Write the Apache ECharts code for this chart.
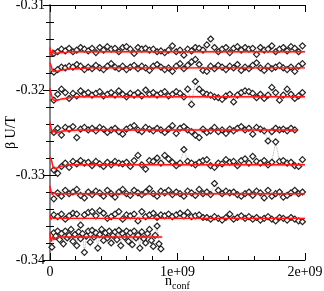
<!DOCTYPE html>
<html><head><meta charset="utf-8">
<script src="https://cdn.jsdelivr.net/npm/echarts@6/dist/echarts.min.js"></script>
<style>html,body{margin:0;padding:0;background:#fff}#c{width:324px;height:291px}</style>
</head><body><div id="c"></div>
<script>
// x positions (n_conf) for series 1-7
const xs = [3e7,6e7,9e7,1.2e8,1.5e8,1.8e8,2.1e8,2.4e8,2.7e8,3e8,
3.3e8,3.6e8,3.9e8,4.2e8,4.5e8,4.8e8,5.1e8,5.4e8,5.7e8,6e8,
6.3e8,6.6e8,6.9e8,7.2e8,7.5e8,7.8e8,8.1e8,8.4e8,8.7e8,9e8,
9.3e8,9.6e8,9.9e8,1.02e9,1.05e9,1.08e9,1.11e9,1.14e9,1.17e9,1.2e9,
1.23e9,1.26e9,1.29e9,1.32e9,1.35e9,1.38e9,1.41e9,1.44e9,1.47e9,1.5e9,
1.53e9,1.56e9,1.59e9,1.62e9,1.65e9,1.68e9,1.71e9,1.74e9,1.77e9,1.8e9,
1.83e9,1.86e9,1.89e9,1.92e9,1.95e9,1.98e9];
// x positions for series 8 (denser, shorter)
const xs8 = [1.5e7,3e7,4.5e7,6e7,7.5e7,9e7,1.05e8,1.2e8,1.35e8,1.5e8,1.65e8,1.8e8,1.95e8,2.1e8,2.25e8,2.4e8,2.55e8,2.7e8,2.85e8,3e8,
3.15e8,3.3e8,3.45e8,3.6e8,3.75e8,3.9e8,4.05e8,4.2e8,4.35e8,4.5e8,4.65e8,4.8e8,4.95e8,5.1e8,5.25e8,5.4e8,5.55e8,5.7e8,5.85e8,6e8,
6.15e8,6.3e8,6.45e8,6.6e8,6.75e8,6.9e8,7.05e8,7.2e8,7.35e8,7.5e8,7.65e8,7.8e8,7.95e8,8.1e8,8.25e8,8.4e8,8.55e8,8.7e8];

const s1 = [-0.3157,-0.3155,-0.3152,-0.3154,-0.3151,-0.3155,-0.3153,-0.3150,-0.3152,-0.3154,
-0.3151,-0.3156,-0.3150,-0.3153,-0.3149,-0.3152,-0.3151,-0.3155,-0.3150,-0.3149,
-0.3152,-0.3157,-0.3150,-0.3152,-0.3151,-0.3153,-0.3152,-0.3155,-0.3154,-0.3156,
-0.3153,-0.3148,-0.3155,-0.3153,-0.3159,-0.3152,-0.3154,-0.3150,-0.3151,-0.3153,
-0.3147,-0.3140,-0.3150,-0.3155,-0.3152,-0.3150,-0.3156,-0.3151,-0.3149,-0.3153,
-0.3150,-0.3152,-0.3151,-0.3158,-0.3150,-0.3153,-0.3152,-0.3148,-0.3155,-0.3152,
-0.3150,-0.3154,-0.3149,-0.3151,-0.3155,-0.3148];
const s2 = [-0.3179,-0.3176,-0.3173,-0.3174,-0.3172,-0.3173,-0.3170,-0.3172,-0.3176,-0.3173,
-0.3175,-0.3171,-0.3174,-0.3176,-0.3172,-0.3169,-0.3173,-0.3175,-0.3172,-0.3176,
-0.3173,-0.3171,-0.3175,-0.3172,-0.3174,-0.3177,-0.3172,-0.3170,-0.3173,-0.3176,
-0.3174,-0.3178,-0.3172,-0.3169,-0.3175,-0.3171,-0.3167,-0.3164,-0.3170,-0.3177,
-0.3178,-0.3172,-0.3175,-0.3171,-0.3173,-0.3176,-0.3172,-0.3174,-0.3170,-0.3177,
-0.3173,-0.3175,-0.3171,-0.3168,-0.3174,-0.3177,-0.3172,-0.3175,-0.3173,-0.3171,
-0.3174,-0.3176,-0.3173,-0.3178,-0.3172,-0.3169];
const s3 = [-0.3212,-0.3205,-0.3199,-0.3203,-0.3210,-0.3204,-0.3207,-0.3201,-0.3205,-0.3203,
-0.3206,-0.3204,-0.3202,-0.3207,-0.3205,-0.3203,-0.3206,-0.3201,-0.3205,-0.3208,
-0.3204,-0.3206,-0.3203,-0.3207,-0.3200,-0.3205,-0.3203,-0.3206,-0.3204,-0.3202,
-0.3207,-0.3205,-0.3202,-0.3204,-0.3208,-0.3199,-0.3217,-0.3190,-0.3199,-0.3203,
-0.3205,-0.3206,-0.3208,-0.3209,-0.3211,-0.3207,-0.3205,-0.3214,-0.3206,-0.3203,
-0.3201,-0.3202,-0.3204,-0.3209,-0.3205,-0.3210,-0.3206,-0.3197,-0.3203,-0.3212,
-0.3206,-0.3199,-0.3205,-0.3210,-0.3207,-0.3203];
const s4 = [-0.3250,-0.3245,-0.3253,-0.3244,-0.3246,-0.3243,-0.3256,-0.3246,-0.3244,-0.3247,
-0.3245,-0.3248,-0.3244,-0.3246,-0.3250,-0.3247,-0.3245,-0.3249,-0.3252,-0.3246,
-0.3244,-0.3242,-0.3247,-0.3249,-0.3244,-0.3246,-0.3248,-0.3245,-0.3247,-0.3250,
-0.3246,-0.3242,-0.3251,-0.3245,-0.3243,-0.3247,-0.3249,-0.3253,-0.3256,-0.3246,
-0.3250,-0.3248,-0.3244,-0.3249,-0.3247,-0.3251,-0.3246,-0.3248,-0.3245,-0.3243,
-0.3247,-0.3245,-0.3252,-0.3244,-0.3246,-0.3248,-0.3260,-0.3249,-0.3245,-0.3247,
-0.3246,-0.3248,-0.3245,-0.3247];
const s5 = [-0.3294,-0.3298,-0.3290,-0.3286,-0.3291,-0.3284,-0.3287,-0.3283,-0.3286,-0.3285,
-0.3289,-0.3284,-0.3287,-0.3290,-0.3285,-0.3288,-0.3284,-0.3286,-0.3287,-0.3285,
-0.3290,-0.3283,-0.3277,-0.3288,-0.3293,-0.3283,-0.3284,-0.3280,-0.3286,-0.3277,
-0.3281,-0.3285,-0.3289,-0.3286,-0.3270,-0.3284,-0.3286,-0.3288,-0.3285,-0.3283,
-0.3282,-0.3289,-0.3291,-0.3286,-0.3287,-0.3282,-0.3285,-0.3284,-0.3289,-0.3283,
-0.3281,-0.3286,-0.3278,-0.3284,-0.3286,-0.3283,-0.3288,-0.3285,-0.3261,-0.3284,
-0.3283,-0.3286,-0.3285,-0.3289,-0.3290,-0.3282];
const s6 = [-0.3328,-0.3321,-0.3325,-0.3318,-0.3322,-0.3320,-0.3317,-0.3324,-0.3327,-0.3320,
-0.3323,-0.3319,-0.3321,-0.3325,-0.3318,-0.3322,-0.3326,-0.3320,-0.3317,-0.3322,
-0.3324,-0.3318,-0.3321,-0.3323,-0.3320,-0.3316,-0.3322,-0.3325,-0.3319,-0.3321,
-0.3318,-0.3323,-0.3320,-0.3322,-0.3325,-0.3319,-0.3321,-0.3324,-0.3317,-0.3322,
-0.3320,-0.3323,-0.3310,-0.3318,-0.3322,-0.3319,-0.3321,-0.3320,-0.3323,-0.3325,
-0.3322,-0.3320,-0.3324,-0.3319,-0.3321,-0.3327,-0.3318,-0.3325,-0.3322,-0.3320,
-0.3326,-0.3324,-0.3321,-0.3318,-0.3322,-0.3320];
const s7 = [-0.3347,-0.3349,-0.3346,-0.3352,-0.3348,-0.3345,-0.3346,-0.3359,-0.3347,-0.3344,
-0.3343,-0.3348,-0.3342,-0.3345,-0.3351,-0.3349,-0.3346,-0.3343,-0.3352,-0.3347,
-0.3348,-0.3346,-0.3354,-0.3343,-0.3349,-0.3347,-0.3345,-0.3350,-0.3347,-0.3348,
-0.3346,-0.3349,-0.3347,-0.3345,-0.3348,-0.3344,-0.3349,-0.3348,-0.3347,-0.3350,
-0.3350,-0.3352,-0.3349,-0.3351,-0.3353,-0.3350,-0.3346,-0.3352,-0.3350,-0.3348,
-0.3351,-0.3349,-0.3352,-0.3350,-0.3353,-0.3351,-0.3349,-0.3352,-0.3354,-0.3350,
-0.3351,-0.3353,-0.3350,-0.3352,-0.3354,-0.3355];
const s8 = [-0.3385,-0.3368,-0.3372,-0.3366,-0.3376,-0.3369,-0.3381,-0.3366,-0.3374,-0.3371,
-0.3364,-0.3378,-0.3370,-0.3383,-0.3367,-0.3375,-0.3369,-0.3391,-0.3372,-0.3366,
-0.3379,-0.3365,-0.3373,-0.3368,-0.3386,-0.3370,-0.3364,-0.3377,-0.3368,-0.3374,
-0.3366,-0.3380,-0.3371,-0.3367,-0.3376,-0.3365,-0.3383,-0.3369,-0.3373,-0.3366,
-0.3378,-0.3368,-0.3382,-0.3366,-0.3374,-0.3371,-0.3386,-0.3367,-0.3375,-0.3380,
-0.3369,-0.3364,-0.3377,-0.3384,-0.3371,-0.3360,-0.3381,-0.3387];

// red running-average curves
const redXs = [0,1e7,2e7,3e7,5e7,8e7,1.2e8,1.6e8,2.2e8,3e8,4e8,6e8,8e8,1e9,1.3e9,1.6e9,1.94e9,2e9];
const r1 = [-0.3150,-0.3160,-0.3153,-0.3157,-0.3157,-0.3156,-0.3156,-0.3155,-0.3155,-0.3155,-0.3155,-0.3155,-0.3155,-0.3155,-0.3155,-0.3155,-0.3155,-0.3155];
const r2 = [-0.3168,-0.3172,-0.3177,-0.3178,-0.3178,-0.3177,-0.3176,-0.3175,-0.3175,-0.3174,-0.3174,-0.3174,-0.3174,-0.3174,-0.3174,-0.3174,-0.3174,-0.3174];
const r3 = [-0.3198,-0.3205,-0.3210,-0.3212,-0.3212,-0.3211,-0.3210,-0.3209,-0.3208,-0.3208,-0.3208,-0.3208,-0.3208,-0.3208,-0.3208,-0.3208,-0.3208,-0.3208];
const r4 = [-0.3238,-0.3246,-0.3250,-0.3248,-0.3251,-0.3249,-0.3248,-0.3248,-0.3247,-0.3247,-0.3247,-0.3247,-0.3247,-0.3247,-0.3247,-0.3247,-0.3247];
const r5 = [-0.3279,-0.3282,-0.3288,-0.3292,-0.3292,-0.3290,-0.3289,-0.3288,-0.3288,-0.3288,-0.3288,-0.3288,-0.3288,-0.3288,-0.3288,-0.3288,-0.3288,-0.3288];
const r6 = [-0.3313,-0.3320,-0.3323,-0.3321,-0.3322,-0.3322,-0.3322,-0.3322,-0.3322,-0.3322,-0.3322,-0.3322,-0.3322,-0.3322,-0.3322,-0.3322,-0.3322,-0.3322];
const r7 = [-0.3348,-0.3352,-0.3350,-0.3351,-0.3351,-0.3351,-0.3351,-0.3351,-0.3351,-0.3351,-0.3351,-0.3351,-0.3351,-0.3351,-0.3351,-0.3351,-0.3351,-0.3351];
const r8 = [-0.3368,-0.3378,-0.3373,-0.3376,-0.3374,-0.3373,-0.3373,-0.3373,-0.3373,-0.3373,-0.3373,-0.3373,-0.3373];
const r8x = [0,1e7,2e7,3e7,5e7,8e7,1.2e8,1.6e8,2.2e8,3e8,5e8,7e8,8.8e8];

const xTicks = {0:'0', 1000000000:'1e+09', 2000000000:'2e+09'};

const FONT = 'Liberation Serif';
const pts = [[xs,s1],[xs,s2],[xs,s3],[xs,s4],[xs,s5],[xs,s6],[xs,s7],[xs8,s8]];
const reds = [[redXs,r1],[redXs,r2],[redXs,r3],[redXs,r4],[redXs,r5],[redXs,r6],[redXs,r7],[r8x,r8]];

const series = [];
pts.forEach(([x,y]) => {
  series.push({type:'line', data: y.map((v,i)=>[x[i],v]), symbol:'diamond', symbolSize:6,
    itemStyle:{color:'#fff', borderColor:'#222', borderWidth:1.2},
    lineStyle:{color:'#999', width:0.8, type:'dotted'}, z:2, animation:false});
});
reds.forEach(([x,y]) => {
  series.push({type:'line', data: y.map((v,i)=>[x[i],v]), showSymbol:false, smooth:0.3,
    lineStyle:{color:'#ff1a1a', width:1.4, shadowColor:'rgba(255,0,0,0.45)', shadowBlur:2}, z:3, animation:false});
});

const tickCommon = {inside:true, length:7, lineStyle:{color:'#000'}};
const minorCommon = {show:true, splitNumber:5, length:4, lineStyle:{color:'#000'}};
const chart = echarts.init(document.getElementById('c'), null, {renderer:'canvas'});
chart.setOption({
  animation:false,
  grid:{left:50, right:19, top:5, bottom:31, containLabel:false, outerBoundsMode:'none'},
  xAxis:[{type:'value', min:0, max:2e9, interval:1e9,
    axisLine:{lineStyle:{color:'#000', width:1}}, axisTick:tickCommon, minorTick:minorCommon,
    splitLine:{show:false},
    axisLabel:{formatter:v=>xTicks[v]!==undefined?xTicks[v]:'', fontFamily:FONT, fontSize:14, color:'#000', margin:5},
    name:'{a|n}{b|conf}', nameLocation:'middle', nameGap:12, nameMoveOverlap:false,
    nameTextStyle:{rich:{a:{fontFamily:FONT, fontSize:14, color:'#000'}, b:{fontFamily:FONT, fontSize:10, color:'#000', padding:[9,0,0,0]}}}
  },{type:'value', position:'top', min:0, max:2e9, interval:1e9,
    axisLine:{lineStyle:{color:'#000', width:1}}, axisTick:tickCommon, minorTick:minorCommon,
    splitLine:{show:false}, axisLabel:{show:false}}],
  yAxis:[{type:'value', min:-0.34, max:-0.31, interval:0.01,
    axisLine:{lineStyle:{color:'#666', width:1.5}}, axisTick:tickCommon, minorTick:minorCommon,
    splitLine:{show:false},
    axisLabel:{formatter:v=>v.toFixed(2), fontFamily:FONT, fontSize:14, color:'#000', margin:5},
    name:'β U/T', nameLocation:'middle', nameGap:32, nameRotate:90, nameMoveOverlap:false,
    nameTextStyle:{fontFamily:FONT, fontSize:14, color:'#000'}
  },{type:'value', position:'right', min:-0.34, max:-0.31, interval:0.01,
    axisLine:{lineStyle:{color:'#888', width:2}}, axisTick:tickCommon, minorTick:minorCommon,
    splitLine:{show:false}, axisLabel:{show:false}}],
  series: series
});
</script></body></html>
